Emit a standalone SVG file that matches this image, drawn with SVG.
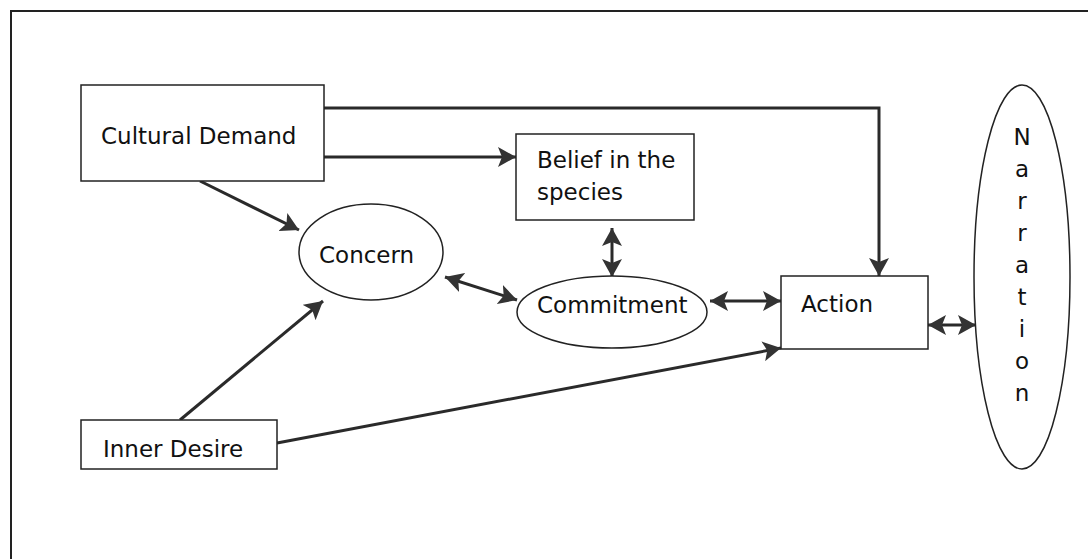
<svg xmlns="http://www.w3.org/2000/svg" width="1088" height="559" viewBox="0 0 1088 559">
<style>
.box{fill:#fff;stroke:#222;stroke-width:1.5}
.lbl{font-family:"DejaVu Sans",Verdana,sans-serif;font-size:23px;fill:#111}
.con{fill:none;stroke:#2a2a2a;stroke-width:3}
.frame{fill:none;stroke:#222;stroke-width:2}
</style>
<defs>
<marker id="ah" viewBox="0 0 18 20" refX="18" refY="10" markerWidth="18" markerHeight="20" markerUnits="userSpaceOnUse" orient="auto-start-reverse">
<path d="M0,0 L18,10 L0,20 L4,10 z" fill="#333"/>
</marker>
</defs>
<rect width="1088" height="559" fill="#fff"/>
<path class="frame" d="M11,559 V11 H1088"/>
<g id="connectors">
<path class="con" d="M324,108 H879 V276" marker-end="url(#ah)"/>
<path class="con" d="M324,157 H516" marker-end="url(#ah)"/>
<path class="con" d="M200,181 L299,230" marker-end="url(#ah)"/>
<path class="con" d="M180,420 L323,301" marker-end="url(#ah)"/>
<path class="con" d="M277,443 L781,348" marker-end="url(#ah)"/>
<path class="con" d="M445,277 L517,300" marker-start="url(#ah)" marker-end="url(#ah)"/>
<path class="con" d="M612,228 V277" marker-start="url(#ah)" marker-end="url(#ah)"/>
<path class="con" d="M710,301 H781" marker-start="url(#ah)" marker-end="url(#ah)"/>
<path class="con" d="M928,325 H976" marker-start="url(#ah)" marker-end="url(#ah)"/>
</g>
<g id="cultural-demand">
<rect class="box" x="81" y="85" width="243" height="96"/>
<text class="lbl" x="101" y="144">Cultural Demand</text>
</g>
<g id="belief">
<rect class="box" x="516" y="134" width="178" height="86"/>
<text class="lbl" x="537" y="168">Belief in the</text>
<text class="lbl" x="537" y="200">species</text>
</g>
<g id="concern">
<ellipse class="box" cx="371" cy="252" rx="72" ry="48"/>
<text class="lbl" x="319" y="263">Concern</text>
</g>
<g id="commitment">
<ellipse class="box" cx="612" cy="312" rx="95" ry="36"/>
<text class="lbl" x="537" y="313">Commitment</text>
</g>
<g id="action">
<rect class="box" x="781" y="276" width="147" height="73"/>
<text class="lbl" x="801" y="312">Action</text>
</g>
<g id="inner-desire">
<rect class="box" x="81" y="420" width="196" height="49"/>
<text class="lbl" x="103" y="457">Inner Desire</text>
</g>
<g id="narration">
<ellipse class="box" cx="1022" cy="277" rx="48" ry="192"/>
<g class="lbl" text-anchor="middle">
<text x="1022" y="145">N</text>
<text x="1022" y="177">a</text>
<text x="1022" y="209">r</text>
<text x="1022" y="241">r</text>
<text x="1022" y="273">a</text>
<text x="1022" y="305">t</text>
<text x="1022" y="337">i</text>
<text x="1022" y="369">o</text>
<text x="1022" y="401">n</text>
</g>
</g>
</svg>
